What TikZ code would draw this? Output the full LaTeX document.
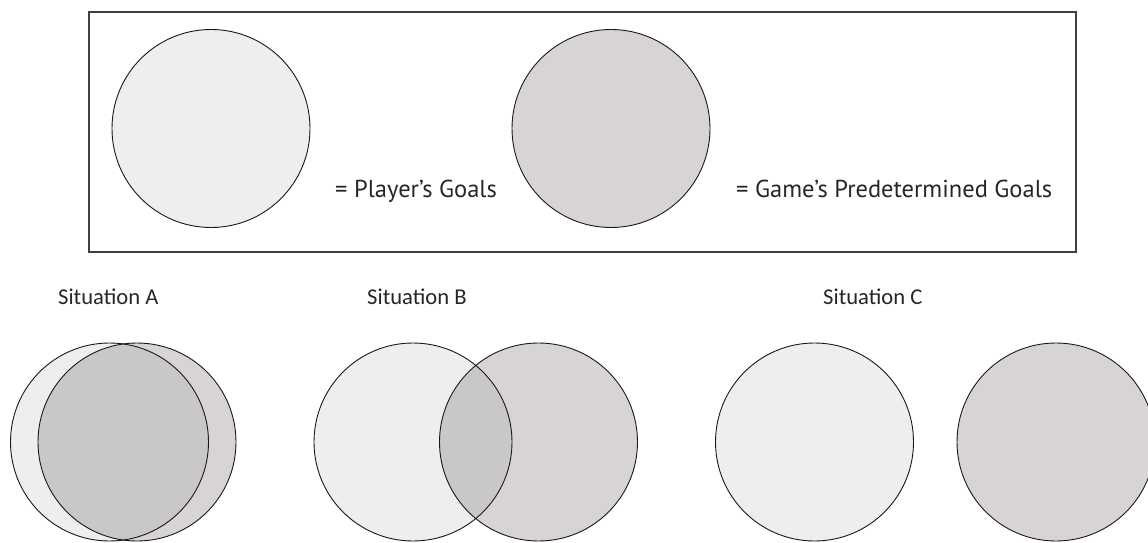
\documentclass[tikz,border=0pt]{standalone}
\usepackage{fontspec}
\setmainfont{Carlito}
\newfontfamily\legendfont{PT Sans}
\definecolor{playercolor}{HTML}{EDEEF0}
\definecolor{gamecolor}{HTML}{D8D4D5}
\definecolor{overlapcolor}{HTML}{C9C7C8}
\colorlet{bordercolor}{black!90}
\colorlet{framecolor}{black!75}
\tikzset{goalline/.style={draw=bordercolor, line width=0.9pt},%
    playergoal/.style={fill=playercolor},%
    gamegoal/.style={fill=gamecolor},%
    legendframe/.style={draw=framecolor, line width=1.2pt},%
    caption/.style={anchor=base west, inner sep=0pt, text=black!85, font=\fontsize{22.6}{26}\selectfont},%
    legendcaption/.style={caption, font=\legendfont\fontsize{24.5}{28}\selectfont}%
}

\begin{document}
\begin{tikzpicture}[x=1pt, y=-1pt]
    \useasboundingbox (0,0) rectangle (1148,543);
    \begin{scope} %place circle centres
        \foreach \nodename/\xpos/\ypos in {%
                legP/211/128.5,
                legG/611/128.5,
                aP/109.5/442,
                aG/137/442,
                bP/413/442,
                bG/538.5/442,
                cP/814.5/442,
                cG/1056/442%
            } \coordinate (\nodename) at (\xpos, \ypos);
    \end{scope}
    \begin{scope} %legend frame
        \draw[legendframe] (89,12) rectangle (1076,252);
    \end{scope}
    \begin{scope} %fill circles
        \foreach \nodename/\nodetype in {%
                legP/playergoal, legG/gamegoal,
                aP/playergoal, aG/gamegoal,
                bP/playergoal, bG/gamegoal,
                cP/playergoal, cG/gamegoal%
            } \path[\nodetype] (\nodename) circle[radius=99pt];
    \end{scope}
    \begin{scope} %shade overlaps
        \foreach \pname/\gname in {aP/aG, bP/bG} {
            \begin{scope}
                \clip (\pname) circle[radius=99pt];
                \fill[overlapcolor] (\gname) circle[radius=99pt];
            \end{scope}
        }
    \end{scope}
    \begin{scope} %draw outlines
        \foreach \nodename in {legP, legG, aP, aG, bP, bG, cP, cG}
            \draw[goalline] (\nodename) circle[radius=99pt];
    \end{scope}
    \begin{scope} %add labels
        \foreach \nodename/\labeltype/\xpos/\ypos/\labelcontent in {%
                playerlabel/legendcaption/335/197/{= Player’s Goals},
                gamelabel/legendcaption/736/197/{= Game’s Predetermined Goals},
                sitA/caption/58/304/{Situation A},
                sitB/caption/367/304/{Situation B},
                sitC/caption/823/304/{Situation C}%
            } \node[\labeltype] (\nodename) at (\xpos, \ypos) {\labelcontent};
    \end{scope}
\end{tikzpicture}
\end{document}
